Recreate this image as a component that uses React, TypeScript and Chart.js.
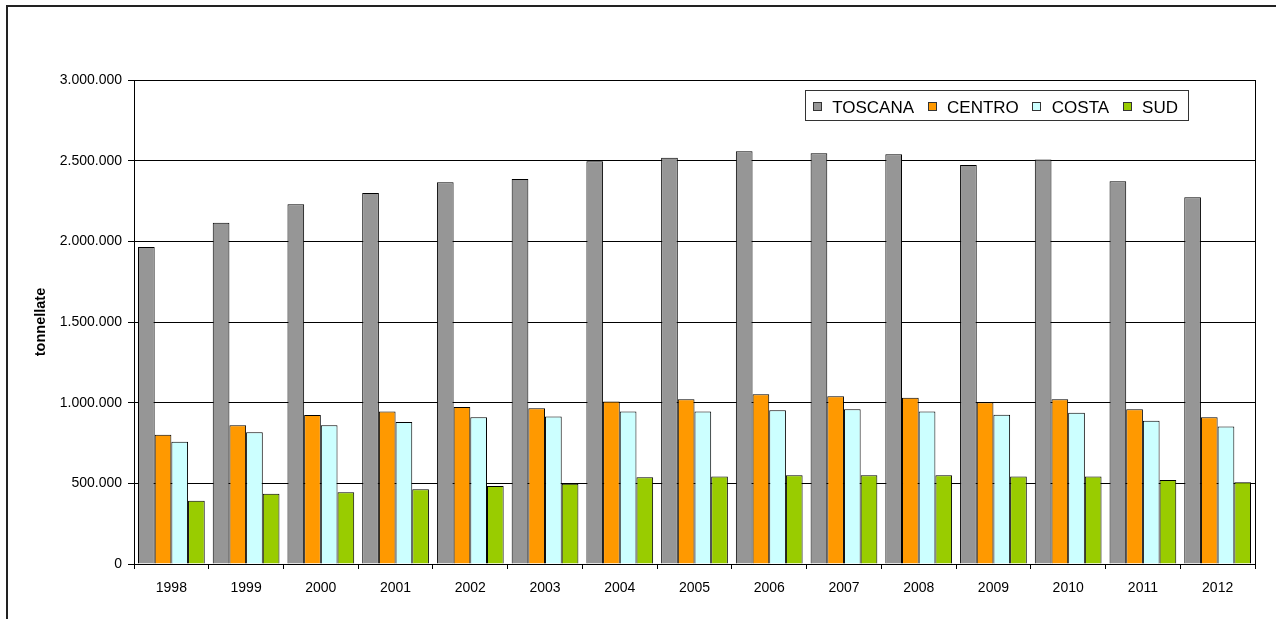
import React, { useEffect, useRef } from 'react';
import { Chart, registerables } from 'chart.js';

Chart.register(...registerables);

const years = ['1998', '1999', '2000', '2001', '2002', '2003', '2004', '2005', '2006', '2007', '2008', '2009', '2010', '2011', '2012'];
const toscana = [1965000, 2115000, 2230000, 2300000, 2366000, 2386000, 2497000, 2518000, 2558000, 2546000, 2539000, 2473000, 2508000, 2372000, 2273000];
const centro = [801000, 860000, 923000, 946000, 973000, 965000, 1008000, 1021000, 1052000, 1039000, 1031000, 1002000, 1021000, 959000, 909000];
const costa = [758000, 816000, 860000, 880000, 909000, 915000, 946000, 946000, 953000, 959000, 946000, 925000, 938000, 888000, 853000];
const sud = [392000, 436000, 444000, 463000, 483000, 498000, 537000, 543000, 550000, 550000, 550000, 543000, 543000, 521000, 506000];

const seriesNames = ['TOSCANA', 'CENTRO', 'COSTA', 'SUD'];
const seriesColors = ['#969696', '#FF9900', '#CCFFFF', '#99CC00'];
const yAxisTitle = 'tonnellate';
const yMin = 0;
const yMax = 3000000;
const yStep = 500000;

const FONT = '"Liberation Sans", Arial, sans-serif';

function fmt(v: number): string {
  return String(Math.round(v)).replace(/\B(?=(\d{3})+(?!\d))/g, '.');
}

const plotFramePlugin = {
  id: 'plotFrame',
  beforeDatasetsDraw(chart: any) {
    const { ctx, chartArea } = chart;
    ctx.save();
    ctx.strokeStyle = '#000';
    ctx.lineWidth = 1;
    ctx.beginPath();
    ctx.moveTo(Math.round(chartArea.right) + 0.5, chartArea.top);
    ctx.lineTo(Math.round(chartArea.right) + 0.5, chartArea.bottom);
    ctx.stroke();
    ctx.restore();
  },
};

const boxLegendPlugin = {
  id: 'boxLegend',
  afterDraw(chart: any) {
    const { ctx, chartArea } = chart;
    const ds = chart.data.datasets;
    ctx.save();
    ctx.font = `17px ${FONT}`;
    const sq = 9;
    const sqToText = 10.5;
    const itemGap = 13.5;
    const padL = 7.5;
    const padR = 10;
    let total = padL;
    ds.forEach((d: any, i: number) => {
      total += sq + sqToText + ctx.measureText(d.label).width;
      if (i < ds.length - 1) total += itemGap;
    });
    total += padR;
    const right = chartArea.right - 67;
    const left = right - total;
    const top = chartArea.top + 9.5;
    const h = 30;
    ctx.fillStyle = '#fff';
    ctx.fillRect(left, top, total, h);
    ctx.strokeStyle = '#333';
    ctx.lineWidth = 1;
    ctx.strokeRect(Math.round(left) + 0.5, Math.round(top) + 0.5, Math.round(total), h);
    let x = left + padL;
    const baseline = top + 23;
    ds.forEach((d: any) => {
      ctx.fillStyle = d.backgroundColor;
      ctx.fillRect(Math.round(x), Math.round(top + 12), sq, sq);
      ctx.strokeStyle = '#333';
      ctx.strokeRect(Math.round(x) + 0.5, Math.round(top + 12) + 0.5, sq - 1, sq - 1);
      x += sq + sqToText;
      ctx.fillStyle = '#000';
      ctx.textBaseline = 'alphabetic';
      ctx.textAlign = 'left';
      ctx.fillText(d.label, x, baseline);
      x += ctx.measureText(d.label).width + itemGap;
    });
    ctx.restore();
  },
};

export default function App() {
  const canvasRef = useRef<HTMLCanvasElement | null>(null);

  useEffect(() => {
    const canvas = canvasRef.current;
    if (!canvas) return;
    const seriesData = [toscana, centro, costa, sud];
    const chart = new Chart(canvas, {
      type: 'bar',
      data: {
        labels: years,
        datasets: seriesNames.map((name, i) => ({
          label: name,
          data: seriesData[i],
          backgroundColor: seriesColors[i],
          borderColor: '#000',
          borderWidth: 1,
          categoryPercentage: 0.893,
          barPercentage: 1.0,
        })),
      },
      options: {
        animation: false,
        responsive: false,
        devicePixelRatio: 1,
        layout: { padding: { top: 80, right: 21, left: 0, bottom: 0 } },
        plugins: {
          legend: { display: false },
          tooltip: { enabled: false },
          title: { display: false },
        },
        scales: {
          x: {
            type: 'category',
            offset: true,
            grid: {
              offset: true,
              drawOnChartArea: false,
              drawTicks: true,
              tickLength: 5,
              color: '#000',
              lineWidth: 1,
            },
            border: { display: true, color: '#000', width: 1 },
            ticks: {
              color: '#000',
              font: { family: FONT, size: 14 },
              padding: 11,
              maxRotation: 0,
              autoSkip: false,
            },
            afterFit: (scale: any) => {
              scale.height = 55;
            },
          },
          y: {
            min: yMin,
            max: yMax,
            grid: {
              color: '#000',
              lineWidth: 1,
              drawTicks: true,
              tickLength: 6,
            },
            border: { display: true, color: '#000', width: 1 },
            ticks: {
              stepSize: yStep,
              color: '#000',
              font: { family: FONT, size: 14 },
              padding: 6,
              callback: (v: any) => fmt(Number(v)),
            },
            title: {
              display: true,
              text: yAxisTitle,
              color: '#000',
              font: { family: FONT, size: 14.5, weight: 'bold' },
              padding: { top: 32, bottom: 0 },
            },
            afterFit: (scale: any) => {
              scale.width = 134;
            },
          },
        },
      } as any,
      plugins: [plotFramePlugin, boxLegendPlugin],
    });
    return () => chart.destroy();
  }, []);

  return (
    <>
      <div
        style={{
          position: 'fixed',
          left: 6,
          top: 5,
          width: 1270,
          height: 614,
          borderTop: '2px solid #222',
          borderLeft: '2px solid #222',
          boxSizing: 'border-box',
        }}
      />
      <canvas
        ref={canvasRef}
        width={1276}
        height={619}
        style={{ position: 'fixed', left: 0, top: 0, width: 1276, height: 619 }}
      />
    </>
  );
}
